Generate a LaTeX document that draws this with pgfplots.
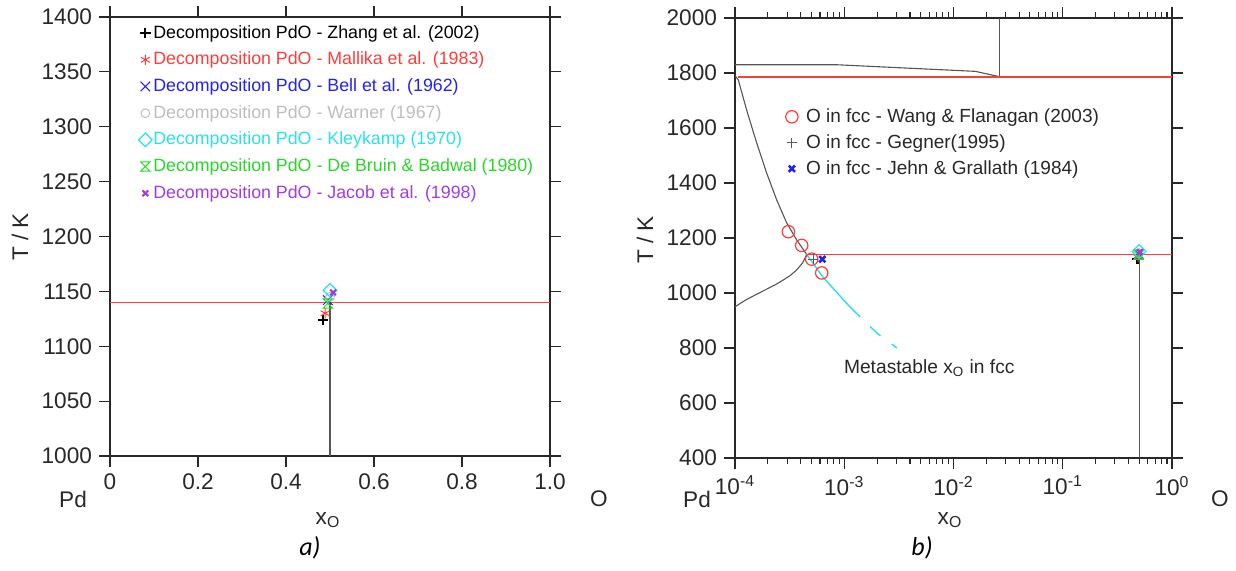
\documentclass[border=0pt]{standalone}
\usepackage{fontspec}
\setmainfont{Liberation Sans}
\newfontfamily\capfont{Carlito}
\usepackage{pgfplots}
\pgfplotsset{compat=1.18}
\usetikzlibrary{plotmarks}

\definecolor{axcol}{RGB}{40,40,40}
\definecolor{txtcol}{RGB}{40,40,40}
\definecolor{curvecol}{RGB}{85,85,85}
\definecolor{cRed}{RGB}{255,60,60}
\definecolor{cBlue}{RGB}{35,35,235}
\definecolor{cGray}{RGB}{190,190,190}
\definecolor{cCyan}{RGB}{40,225,235}
\definecolor{cGreen}{RGB}{40,215,40}
\definecolor{cPurple}{RGB}{160,60,225}
\definecolor{cDark}{RGB}{90,90,90}

% box with a cross through it (De Bruin & Badwal)
\pgfdeclareplotmark{hourglass}{%
  \pgfpathmoveto{\pgfqpoint{-\pgfplotmarksize}{\pgfplotmarksize}}%
  \pgfpathlineto{\pgfqpoint{\pgfplotmarksize}{\pgfplotmarksize}}%
  \pgfpathlineto{\pgfqpoint{-\pgfplotmarksize}{-\pgfplotmarksize}}%
  \pgfpathlineto{\pgfqpoint{\pgfplotmarksize}{-\pgfplotmarksize}}%
  \pgfpathclose
  \pgfusepathqstroke}

\pgfplotsset{
  pdax/.style={
    scale only axis,
    axis line style={line width=0.55pt, color=axcol},
    every tick/.style={line width=0.55pt, color=axcol},
    tick align=outside,
    major tick length=5.5pt, minor tick length=3pt,
    ticklabel style={font=\fontsize{11.3}{13}\selectfont, text=txtcol},
    /pgf/number format/1000 sep={},
    /pgf/number format/assume math mode=true,
    legend cell align=left,
    legend image code/.code={\draw[##1] plot coordinates {(0pt,0pt)};},
  },
  zhang/.style={only marks, mark=+, mark size=2.6pt, line width=1.1pt, color=black},
  mallika/.style={only marks, mark=asterisk, mark size=2.6pt, line width=0.5pt, color=cRed},
  bell/.style={only marks, mark=x, mark size=3.4pt, line width=0.5pt, color=cBlue},
  warner/.style={only marks, mark=o, mark size=2.2pt, line width=0.5pt, color=cGray},
  kley/.style={only marks, mark=square, mark options={rotate=45}, mark size=2.4pt, line width=0.6pt, color=cCyan},
  bruin/.style={only marks, mark=hourglass, mark size=2.3pt, line width=0.5pt, color=cGreen},
  jacob/.style={only marks, mark=x, mark size=2pt, line width=1.1pt, color=cPurple},
}

\begin{document}
\begin{tikzpicture}
\path[use as bounding box] (0pt,0pt) rectangle (618pt,285pt);

% ---------------- a) linear x ----------------
\begin{axis}[pdax,
  at={(55pt,57pt)}, anchor=south west,
  width=220pt, height=219.5pt,
  xmin=0, xmax=1, ymin=1000, ymax=1400,
  xtick={0,0.2,0.4,0.6,0.8,1}, xticklabels={0,0.2,0.4,0.6,0.8,1.0},
  ytick={1000,1050,1100,1150,1200,1250,1300,1350,1400},
  legend style={draw=none, fill=none, at={(0.064,0.987)}, anchor=north west,
    inner sep=0pt, row sep=3.4pt,
    font=\fontsize{8.9}{10.5}\selectfont,
    nodes={inner xsep=0.6pt, inner ysep=1pt}},
]
\addplot[cRed, line width=0.65pt, forget plot] coordinates {(0,1140) (1,1140)};
\addplot[curvecol, line width=0.55pt, forget plot] coordinates {(0.5,1000) (0.5,1140)};

\addplot[zhang] coordinates {(0.484,1124)};
\addlegendentry[text=black]{Decomposition PdO - Zhang et al. (2002)}
\addplot[mallika] coordinates {(0.489,1130)};
\addlegendentry[text=cRed]{Decomposition PdO - Mallika et al. (1983)}
\addplot[bell] coordinates {(0.495,1142)};
\addlegendentry[text=cBlue]{Decomposition PdO - Bell et al. (1962)}
\addplot[warner] coordinates {(0.5,1145)};
\addlegendentry[text=cGray]{Decomposition PdO - Warner (1967)}
\addplot[kley] coordinates {(0.5,1151)};
\addlegendentry[text=cCyan]{Decomposition PdO - Kleykamp (1970)}
\addplot[bruin] coordinates {(0.495,1139)};
\addlegendentry[text=cGreen]{Decomposition PdO - De Bruin \& Badwal (1980)}
\addplot[jacob] coordinates {(0.507,1149)};
\addlegendentry[text=cPurple]{Decomposition PdO - Jacob et al. (1998)}
\end{axis}

% ---------------- b) log x ----------------
\begin{axis}[pdax,
  at={(367.5pt,56pt)}, anchor=south west,
  width=218.5pt, height=220pt,
  xmode=log,
  xmin=1e-4, xmax=1, ymin=400, ymax=2000,
  xtick={1e-4,1e-3,1e-2,1e-1,1},
  xticklabels={10\textsuperscript{-4},10\textsuperscript{-3},10\textsuperscript{-2},10\textsuperscript{-1},10\textsuperscript{0}},
  minor xtick={2e-4,3e-4,4e-4,5e-4,6e-4,7e-4,8e-4,9e-4,
               2e-3,3e-3,4e-3,5e-3,6e-3,7e-3,8e-3,9e-3,
               0.02,0.03,0.04,0.05,0.06,0.07,0.08,0.09,
               0.2,0.3,0.4,0.5,0.6,0.7,0.8,0.9},
  ytick={400,600,800,1000,1200,1400,1600,1800,2000},
  legend style={draw=none, fill=none, at={(0.115,0.8)}, anchor=north west,
    inner sep=0pt, row sep=2.6pt,
    font=\fontsize{9.5}{11}\selectfont, text=txtcol,
    nodes={inner xsep=4pt, inner ysep=1pt}},
]
% liquid / melting lines
\addplot[curvecol, line width=0.55pt, forget plot] coordinates {
  (1e-4,1830) (8.55e-4,1830) (0.01585,1806) (0.02612,1787)};
\addplot[curvecol, line width=0.55pt, forget plot] coordinates {(0.02612,1787) (0.02612,2000)};
\addplot[cRed, line width=0.7pt, forget plot] coordinates {(1.072e-4,1785) (1,1785)};
% fcc solvus
\addplot[curvecol, line width=0.55pt, forget plot] coordinates {
  (1e-4,1790) (1.072e-4,1775) (1.279e-4,1665) (1.581e-4,1545) (1.950e-4,1436)
  (2.410e-4,1338) (2.972e-4,1255) (3.673e-4,1193) (4.529e-4,1140)};
\addplot[curvecol, line width=0.55pt, forget plot] coordinates {
  (1e-4,950) (1.259e-4,975) (1.585e-4,996) (1.995e-4,1016) (2.512e-4,1037)
  (3.162e-4,1062) (3.631e-4,1082) (4.169e-4,1110) (4.529e-4,1140)};
\addplot[cRed, line width=0.65pt, forget plot] coordinates {(4.529e-4,1140) (1,1140)};
\addplot[curvecol, line width=0.55pt, forget plot] coordinates {(0.5,400) (0.5,1140)};
% metastable solubility
\addplot[cCyan, line width=0.7pt, forget plot] coordinates {
  (4.529e-4,1140) (6.383e-4,1058) (1.130e-3,949)};
\addplot[cCyan, line width=0.7pt, dash pattern=on 7pt off 7pt, forget plot] coordinates {
  (1.130e-3,949) (1.995e-3,854) (3.041e-3,800)};

% decomposition PdO points
\addplot[zhang, forget plot] coordinates {(0.484,1124)};
\addplot[mallika, forget plot] coordinates {(0.489,1130)};
\addplot[bell, forget plot] coordinates {(0.495,1142)};
\addplot[warner, forget plot] coordinates {(0.5,1145)};
\addplot[kley, forget plot] coordinates {(0.5,1151)};
\addplot[bruin, forget plot] coordinates {(0.495,1139)};
\addplot[jacob, forget plot] coordinates {(0.507,1149)};

% O in fcc
\addplot[only marks, mark=o, mark size=3.1pt, line width=0.6pt, color=cRed]
  coordinates {(3.08e-4,1223) (4.08e-4,1173) (5.04e-4,1123) (6.22e-4,1073)};
\addlegendentry{O in fcc - Wang \& Flanagan (2003)}
\addplot[only marks, mark=+, mark size=2.4pt, line width=0.5pt, color=cDark]
  coordinates {(5.2e-4,1123)};
\addlegendentry{O in fcc - Gegner(1995)}
\addplot[only marks, mark=x, mark size=2.2pt, line width=1.3pt, color=cBlue]
  coordinates {(6.3e-4,1123)};
\addlegendentry{O in fcc - Jehn \& Grallath (1984)}
\end{axis}

% labels
\begin{scope}[font=\fontsize{11.3}{13}\selectfont, text=txtcol]
\node[rotate=90] at (10pt,166.5pt) {T / K};
\node at (36.5pt,35.5pt) {Pd};
\node at (299.5pt,35.5pt) {O};
\node at (164pt,25pt) {x\textsubscript{O}};
\node[rotate=90] at (322.5pt,165pt) {T / K};
\node at (348.5pt,35.5pt) {Pd};
\node at (610pt,35.5pt) {O};
\node at (475pt,25pt) {x\textsubscript{O}};
\end{scope}
\node[anchor=west, font=\fontsize{9.6}{11}\selectfont, text=txtcol] at (418.5pt,101pt) {Metastable x\textsubscript{O} in fcc};
\node[font=\capfont\itshape\fontsize{13}{15}\selectfont] at (155pt,11pt) {a)};
\node[font=\capfont\itshape\fontsize{13}{15}\selectfont] at (461pt,11pt) {b)};
\end{tikzpicture}
\end{document}
